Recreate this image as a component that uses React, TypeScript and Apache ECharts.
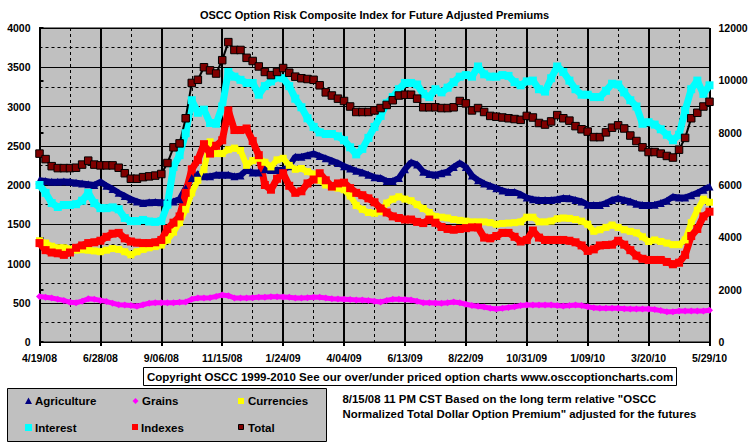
import React, { useEffect, useRef } from 'react';
import * as echarts from 'echarts';

// x tick labels every 70 days starting 4/19/08
const xTickLabels = ['4/19/08', '6/28/08', '9/06/08', '11/15/08', '1/24/09', '4/04/09', '6/13/09', '8/22/09', '10/31/09', '1/09/10', '3/20/10', '5/29/10'];
// weekly observations: day offset from 4/19/08
const weekDays: number[] = Array.from({ length: 111 }, (_, i) => i * 7);

const agriculture = [2060, 2050, 2040, 2040, 2045, 2040, 2030, 2020, 2010, 2000, 2040, 1990, 1950, 1900, 1860, 1820, 1790, 1770, 1780, 1785, 1780, 1770, 1790, 1820, 1960, 2090, 2140, 2110, 2110, 2130, 2130, 2130, 2110, 2120, 2190, 2160, 2160, 2200, 2190, 2190, 2190, 2240, 2360, 2360, 2380, 2400, 2370, 2340, 2310, 2280, 2240, 2210, 2180, 2160, 2130, 2100, 2090, 2050, 2050, 2090, 2200, 2290, 2260, 2170, 2140, 2130, 2150, 2170, 2230, 2280, 2230, 2120, 2060, 2020, 1990, 1960, 1930, 1910, 1910, 1880, 1840, 1820, 1810, 1810, 1810, 1820, 1835, 1830, 1810, 1790, 1750, 1745, 1745, 1770, 1810, 1830, 1810, 1790, 1760, 1745, 1745, 1750, 1770, 1800, 1850, 1840, 1840, 1870, 1900, 1940, 1980];
const grains = [580, 570, 560, 545, 530, 505, 500, 520, 550, 545, 530, 515, 495, 475, 470, 465, 455, 475, 495, 500, 500, 500, 500, 505, 510, 545, 560, 560, 565, 580, 600, 590, 560, 560, 560, 565, 570, 570, 575, 575, 573, 570, 560, 560, 565, 570, 570, 560, 550, 548, 545, 540, 535, 535, 530, 520, 510, 530, 545, 545, 540, 535, 520, 500, 500, 498, 495, 500, 510, 500, 480, 465, 455, 445, 430, 420, 430, 440, 450, 465, 470, 470, 470, 470, 470, 465, 460, 465, 470, 465, 450, 435, 430, 430, 430, 430, 425, 420, 420, 420, 420, 415, 400, 385, 385, 395, 395, 395, 395, 395, 405];
const currencies = [1290, 1260, 1220, 1200, 1200, 1185, 1170, 1175, 1170, 1160, 1150, 1170, 1190, 1180, 1150, 1110, 1150, 1180, 1200, 1215, 1235, 1300, 1400, 1520, 1690, 1900, 2060, 2200, 2550, 2400, 2400, 2450, 2470, 2440, 2250, 2310, 2340, 2290, 2230, 2320, 2340, 2250, 2200, 2210, 2170, 2140, 2060, 2000, 1975, 1960, 1940, 1860, 1740, 1690, 1650, 1640, 1660, 1770, 1820, 1850, 1820, 1800, 1750, 1700, 1650, 1600, 1590, 1580, 1560, 1550, 1540, 1530, 1530, 1530, 1520, 1500, 1510, 1515, 1520, 1530, 1590, 1590, 1530, 1530, 1540, 1570, 1580, 1575, 1560, 1540, 1500, 1410, 1430, 1460, 1490, 1460, 1430, 1410, 1390, 1340, 1280, 1300, 1280, 1260, 1240, 1240, 1300, 1520, 1680, 1820, 1780];
const interest = [2000, 1900, 1770, 1720, 1745, 1745, 1755, 1800, 1900, 1770, 1705, 1705, 1715, 1690, 1580, 1540, 1540, 1555, 1535, 1530, 1540, 1750, 2230, 2380, 2660, 3080, 2920, 2960, 2790, 2780, 3000, 3440, 3380, 3340, 3300, 3300, 3150, 3260, 3320, 3370, 3360, 3260, 3100, 2990, 2850, 2740, 2670, 2650, 2650, 2620, 2570, 2480, 2390, 2460, 2600, 2740, 2880, 3040, 3120, 3220, 3300, 3300, 3280, 3160, 3120, 3220, 3180, 3240, 3310, 3380, 3400, 3380, 3510, 3410, 3380, 3380, 3400, 3390, 3310, 3270, 3320, 3330, 3220, 3190, 3360, 3510, 3440, 3330, 3220, 3150, 3150, 3120, 3120, 3200, 3290, 3280, 3180, 3080, 3000, 2780, 2800, 2770, 2710, 2640, 2570, 2640, 2950, 3220, 3330, 3160, 3270];
const indexes = [1260, 1170, 1140, 1130, 1110, 1140, 1200, 1230, 1260, 1270, 1290, 1340, 1380, 1390, 1320, 1280, 1265, 1260, 1260, 1270, 1300, 1440, 1520, 1600, 1900, 2200, 2320, 2520, 2400, 2500, 2570, 2950, 2700, 2700, 2720, 2560, 2380, 2000, 1940, 2080, 2150, 1990, 1900, 1920, 2020, 2070, 2150, 2060, 1980, 2020, 2030, 1960, 1900, 1870, 1830, 1780, 1700, 1650, 1600, 1580, 1560, 1560, 1530, 1515, 1560, 1520, 1465, 1440, 1430, 1440, 1450, 1460, 1460, 1330, 1320, 1350, 1390, 1390, 1340, 1280, 1300, 1420, 1330, 1300, 1300, 1300, 1300, 1290, 1270, 1230, 1160, 1180, 1230, 1235, 1240, 1290, 1240, 1170, 1100, 1060, 1045, 1045, 1045, 1020, 990, 1010, 1110, 1350, 1440, 1600, 1660];
const total = [7200, 6990, 6720, 6645, 6645, 6645, 6660, 6780, 6930, 6780, 6750, 6750, 6750, 6660, 6450, 6240, 6240, 6300, 6330, 6360, 6420, 6840, 7440, 7590, 8550, 9900, 10020, 10500, 10380, 10260, 10770, 11460, 11160, 11160, 10860, 10740, 10530, 10320, 10200, 10320, 10470, 10290, 10140, 10080, 10050, 10020, 9810, 9540, 9420, 9300, 9210, 9000, 8790, 8790, 8790, 8850, 8940, 9060, 9240, 9420, 9450, 9450, 9300, 8970, 8970, 8970, 8940, 8940, 8970, 9210, 9120, 8850, 8940, 8790, 8640, 8610, 8580, 8550, 8520, 8490, 8640, 8580, 8370, 8310, 8430, 8670, 8550, 8460, 8250, 8130, 8040, 7830, 7830, 8010, 8190, 8280, 8160, 7890, 7680, 7440, 7260, 7260, 7200, 7110, 7050, 7350, 7800, 8550, 8760, 9000, 9180];

const titleText = 'OSCC Option Risk Composite Index for Future Adjusted Premiums';
const copyrightText = 'Copyright OSCC 1999-2010 See our over/under priced option charts www.osccoptioncharts.com';
const noteLine1 = '8/15/08 11 PM CST Based on the long term relative "OSCC';
const noteLine2 = 'Normalized Total Dollar Option Premium" adjusted for the futures';

const FONT = 'Arial, "Liberation Sans", Helvetica, sans-serif';

export default function App() {
  const ref = useRef<HTMLDivElement>(null);
  useEffect(() => {
    const chart = echarts.init(ref.current as HTMLDivElement, null, { renderer: 'svg' });
    const pair = (arr: number[]) => arr.map((v, i) => [weekDays[i], v]);
    const line = (name: string, data: number[], color: string, symbol: string, size: number, lw: number, yAxisIndex = 0, extra: any = {}) => ({
      type: 'line',
      name,
      data: pair(data),
      xAxisIndex: 0,
      yAxisIndex,
      symbol,
      symbolSize: size,
      showSymbol: true,
      showAllSymbol: true,
      silent: true,
      lineStyle: { color, width: lw },
      itemStyle: { color },
      emphasis: { disabled: true },
      ...extra,
    });
    const lbl = { fontFamily: FONT, fontWeight: 'bold', fontSize: 10.5, color: '#000' };
    const legendText = (x: number, y: number, t: string) => ({ type: 'text', x, y, style: { text: t, fill: '#000', font: `bold 11.5px ${FONT}`, verticalAlign: 'middle' } });
    chart.setOption({
      animation: false,
      backgroundColor: '#fff',
      grid: { left: 39.5, top: 28, right: 45.5, bottom: 104, show: true, backgroundColor: '#C0C0C0', borderColor: '#000', borderWidth: 1, outerBoundsMode: 'none', containLabel: false },
      xAxis: [
        {
          type: 'value', min: 0, max: 770, interval: 35,
          axisLine: { show: false }, axisTick: { show: false }, axisLabel: { show: false },
          splitLine: { show: true, lineStyle: { color: '#000', width: 1, type: [3, 3] } },
        },
        {
          type: 'value', min: 0, max: 770, interval: 70, position: 'bottom',
          axisLine: { show: true, lineStyle: { color: '#000', width: 1 } },
          axisTick: { show: true, length: 4, lineStyle: { color: '#000', width: 2 } },
          axisLabel: { ...lbl, margin: 10, showMinLabel: true, showMaxLabel: true, hideOverlap: false, formatter: (v: number) => xTickLabels[Math.round(v / 70)] ?? '' },
          splitLine: { show: true, lineStyle: { color: '#000', width: 2 } },
        },
      ],
      yAxis: [
        {
          type: 'value', min: 0, max: 4000, interval: 500, position: 'left',
          axisLine: { show: true, lineStyle: { color: '#000', width: 1 } }, axisTick: { show: false },
          axisLabel: { ...lbl, margin: 9, formatter: (v: number) => String(v) },
          splitLine: { show: true, lineStyle: { color: '#000', width: 1 } },
        },
        {
          type: 'value', min: 0, max: 12000, interval: 2000, position: 'right',
          axisLine: { show: true, lineStyle: { color: '#000', width: 2 } },
          axisTick: { show: true, length: 4, lineStyle: { color: '#000', width: 2 } },
          axisLabel: { ...lbl, margin: 9, formatter: (v: number) => String(v) },
          splitLine: { show: false },
        },
        {
          type: 'value', min: 0, max: 4000, interval: 250, position: 'left',
          axisLine: { show: false }, axisTick: { show: false }, axisLabel: { show: false },
          splitLine: { show: true, lineStyle: { color: '#000', width: 1, type: [3, 3] } },
        },
      ],
      series: [
        line('Agriculture', agriculture, '#000080', 'triangle', 8, 6),
        line('Grains', grains, '#FF00FF', 'diamond', 7, 5),
        line('Currencies', currencies, '#FFFF00', 'rect', 7, 6),
        line('Interest', interest, '#00FFFF', 'rect', 8, 7),
        line('Indexes', indexes, '#FF0000', 'rect', 8, 7),
        line('Total', total, '#800000', 'rect', 7.5, 1.5, 1, { lineStyle: { color: '#000', width: 2 }, itemStyle: { color: '#800000', borderColor: '#000', borderWidth: 1 } }),
      ],
      graphic: [
        { type: 'text', x: 374.5, y: 15, style: { text: titleText, fill: '#000', font: `bold 11px ${FONT}`, align: 'center', verticalAlign: 'middle' } },
        { type: 'rect', shape: { x: 143.5, y: 367.5, width: 533, height: 18 }, style: { fill: '#fff', stroke: '#000', lineWidth: 1 } },
        { type: 'text', x: 147, y: 376.5, style: { text: copyrightText, fill: '#000', font: `bold 11.5px ${FONT}`, verticalAlign: 'middle' } },
        { type: 'rect', shape: { x: 7.5, y: 388.5, width: 319, height: 53 }, style: { fill: '#C0C0C0', stroke: '#000', lineWidth: 1 } },
        { type: 'polygon', shape: { points: [[25, 404], [32, 404], [28.5, 397.5]] }, style: { fill: '#000080' } },
        legendText(35, 401, 'Agriculture'),
        { type: 'polygon', shape: { points: [[135.5, 398], [138.5, 401], [135.5, 404], [132.5, 401]] }, style: { fill: '#FF00FF' } },
        legendText(142, 401, 'Grains'),
        { type: 'rect', shape: { x: 238, y: 398, width: 6, height: 6 }, style: { fill: '#FFFF00' } },
        legendText(248, 401, 'Currencies'),
        { type: 'rect', shape: { x: 25, y: 424, width: 7, height: 7 }, style: { fill: '#00FFFF' } },
        legendText(35, 427.5, 'Interest'),
        { type: 'rect', shape: { x: 132, y: 424, width: 6, height: 6 }, style: { fill: '#FF0000' } },
        legendText(141, 427.5, 'Indexes'),
        { type: 'rect', shape: { x: 238.5, y: 424.5, width: 5, height: 5 }, style: { fill: '#800000', stroke: '#000', lineWidth: 1 } },
        legendText(248, 427.5, 'Total'),
        { type: 'text', x: 342.5, y: 399, style: { text: noteLine1, fill: '#000', font: `bold 11.4px ${FONT}`, verticalAlign: 'middle' } },
        { type: 'text', x: 342.5, y: 413.5, style: { text: noteLine2, fill: '#000', font: `bold 11.4px ${FONT}`, verticalAlign: 'middle' } },
      ],
    });
    return () => chart.dispose();
  }, []);
  return <div ref={ref} style={{ position: 'fixed', left: 0, top: 0, width: 755, height: 446 }} />;
}
